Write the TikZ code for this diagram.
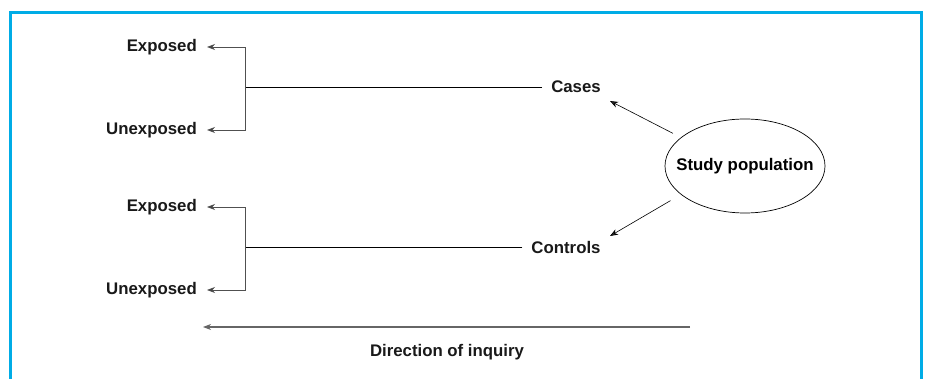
\documentclass[tikz,border=0pt]{standalone}
\usepackage{fontspec}
\setmainfont{Liberation Sans}
\usetikzlibrary{arrows.meta,shapes.geometric}
\definecolor{framecyan}{RGB}{0,172,230}
\definecolor{linegray}{RGB}{80,80,80}
\tikzset{
  lbl/.style={font=\bfseries\fontsize{16.8}{20}\selectfont, text=black!90, inner sep=0pt},
  arr/.style={-{Stealth[length=8pt,width=6pt,inset=2.5pt,fill=black!85]}, draw=linegray, line width=0.9pt},
  plain/.style={draw=black, line width=0.7pt},
  popstyle/.style={ellipse, draw=black, line width=0.7pt, minimum width=160pt, minimum height=94pt, inner xsep=-12.5pt, inner ysep=0pt, font=\bfseries\fontsize{16.8}{20}\selectfont}
}
\begin{document}
\begin{tikzpicture}[x=1pt,y=-1pt]
\useasboundingbox (0,0) rectangle (926,379);
% frame
\draw[framecyan, line width=3pt] (10,390) -- (10,13) -- (921,13) -- (921,390);
% labels
\node[lbl, anchor=east] (e1) at (197,47) {Exposed};
\node[lbl, anchor=east] (u1) at (197,130) {Unexposed};
\node[lbl, anchor=east] (e2) at (197,207) {Exposed};
\node[lbl, anchor=east] (u2) at (197,290) {Unexposed};
\node[lbl] (cases) at (576,87) {Cases};
\node[lbl] (controls) at (566,247) {Controls};
\node[popstyle] (pop) at (745,166) {Study population};
\node[lbl] (dir) at (447,352) {Direction of inquiry};
% coordinates
\coordinate (b1) at (245,87);
\coordinate (b2) at (245,247);
\coordinate (casesend) at (610,101);
\coordinate (controlsend) at (610,236);
\coordinate (dirstart) at (690,327);
\coordinate (dirend) at (203,327);
% upper bracket
\draw[plain] ([xshift=-9pt]cases.west) -- (b1);
\draw[arr] (b1) |- ([xshift=10pt]e1.east);
\draw[arr] (b1) |- ([xshift=10pt]u1.east);
% lower bracket
\draw[plain] ([xshift=-9pt]controls.west) -- (b2);
\draw[arr] (b2) |- ([xshift=10pt]e2.east);
\draw[arr] (b2) |- ([xshift=10pt]u2.east);
% from population
\draw[arr, draw=black, line width=0.6pt, shorten <=9pt] (pop.156) -- (casesend);
\draw[arr, draw=black, line width=0.6pt, shorten <=12pt] (pop.204) -- (controlsend);
% direction
\draw[arr, draw=black!60, line width=1.3pt] (dirstart) -- (dirend);
\end{tikzpicture}
\end{document}
